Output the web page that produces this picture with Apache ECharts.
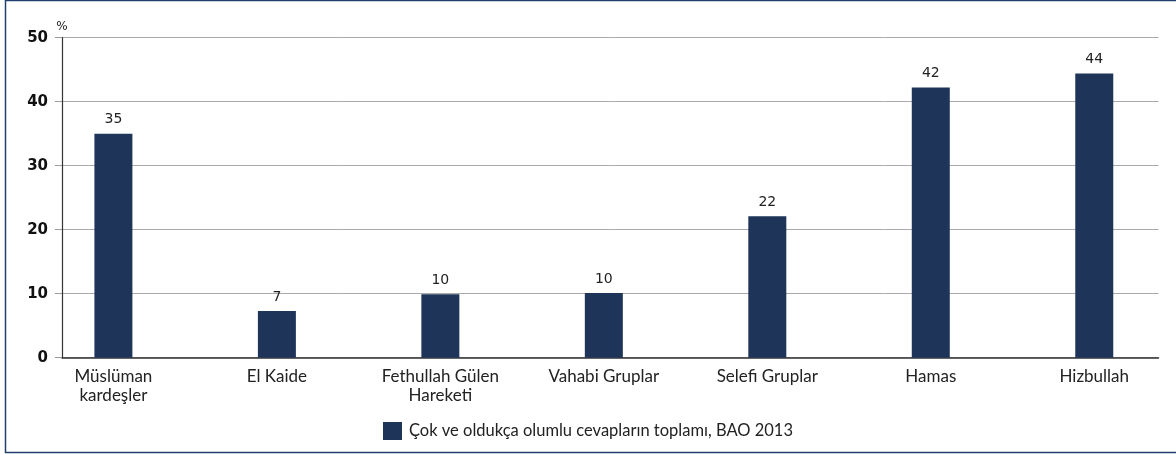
<!DOCTYPE html>
<html><head><meta charset="utf-8">
<script src="https://cdn.jsdelivr.net/npm/echarts@6/dist/echarts.min.js"></script>
<style>html,body{margin:0;padding:0;background:#fff}#c{width:1176px;height:454px}</style>
</head><body><div id="c"></div>
<script>
const categories = ['Müslüman\nkardeşler','El Kaide','Fethullah Gülen\nHareketi','Vahabi Gruplar','Selefi Gruplar','Hamas','Hizbullah'];
const values = [35, 7.3, 9.9, 10.1, 22.1, 42.2, 44.4];
const seriesName = 'Çok ve oldukça olumlu cevapların toplamı, BAO 2013';
const yTicks = [0, 10, 20, 30, 40, 50];

const TOP = 37.7, BOTTOM = 454 - 357.7;
const chart = echarts.init(document.getElementById('c'));
chart.setOption({
  animation: false,
  graphic: [{type:'rect', shape:{x:5.5, y:0.5, width:1200, height:452}, style:{fill:'none', stroke:'#22406e', lineWidth:1.5}, silent:true}],
  grid: [
    {left:62, right:17.5, top:TOP, bottom:BOTTOM},
    {left:31.67, right:-8.33, top:TOP, bottom:BOTTOM}
  ],
  legend: {
    data:[seriesName], top: 417, left:'center',
    itemWidth:19, itemHeight:18, itemGap:10,
    textStyle:{fontFamily:'Lato', fontSize:16.5, color:'#222', padding:[0,0,0,2]},
    icon:'rect'
  },
  xAxis: [
    {gridIndex:0, type:'value', min:0, max:1, interval:1,
     axisLine:{show:true, onZero:false, lineStyle:{color:'#333', width:1.5}},
     axisTick:{show:false}, axisLabel:{show:false}, splitLine:{show:false}},
    {gridIndex:1, type:'category', data:categories,
     axisLine:{show:false}, axisTick:{show:false},
     axisLabel:{fontFamily:'Lato', fontSize:17, lineHeight:19, color:'#222', margin:9, interval:0}}
  ],
  yAxis: [
    {gridIndex:0, type:'value', min:yTicks[0], max:yTicks[yTicks.length-1], interval:10,
     name:'%', nameLocation:'end', nameGap:5,
     nameTextStyle:{fontFamily:'DejaVu Sans', fontSize:12, color:'#222', align:'center'},
     axisLine:{show:true, lineStyle:{color:'#333', width:1.2}},
     axisTick:{show:true, length:7, lineStyle:{color:'#999'}},
     axisLabel:{fontFamily:'DejaVu Sans', fontWeight:'bold', fontSize:15, color:'#111', margin:14},
     splitLine:{show:true, lineStyle:{color:'#aaa', width:1}}},
    {gridIndex:1, type:'value', min:yTicks[0], max:yTicks[yTicks.length-1], show:false}
  ],
  series: [{
    name: seriesName, type:'bar', xAxisIndex:1, yAxisIndex:1,
    data: values, barWidth:38,
    itemStyle:{color:'#1e3459'},
    label:{show:true, position:'top', distance:7, fontFamily:'DejaVu Sans', fontSize:14, color:'#222',
      formatter: p => Math.round(p.value)}
  }]
});
</script></body></html>
